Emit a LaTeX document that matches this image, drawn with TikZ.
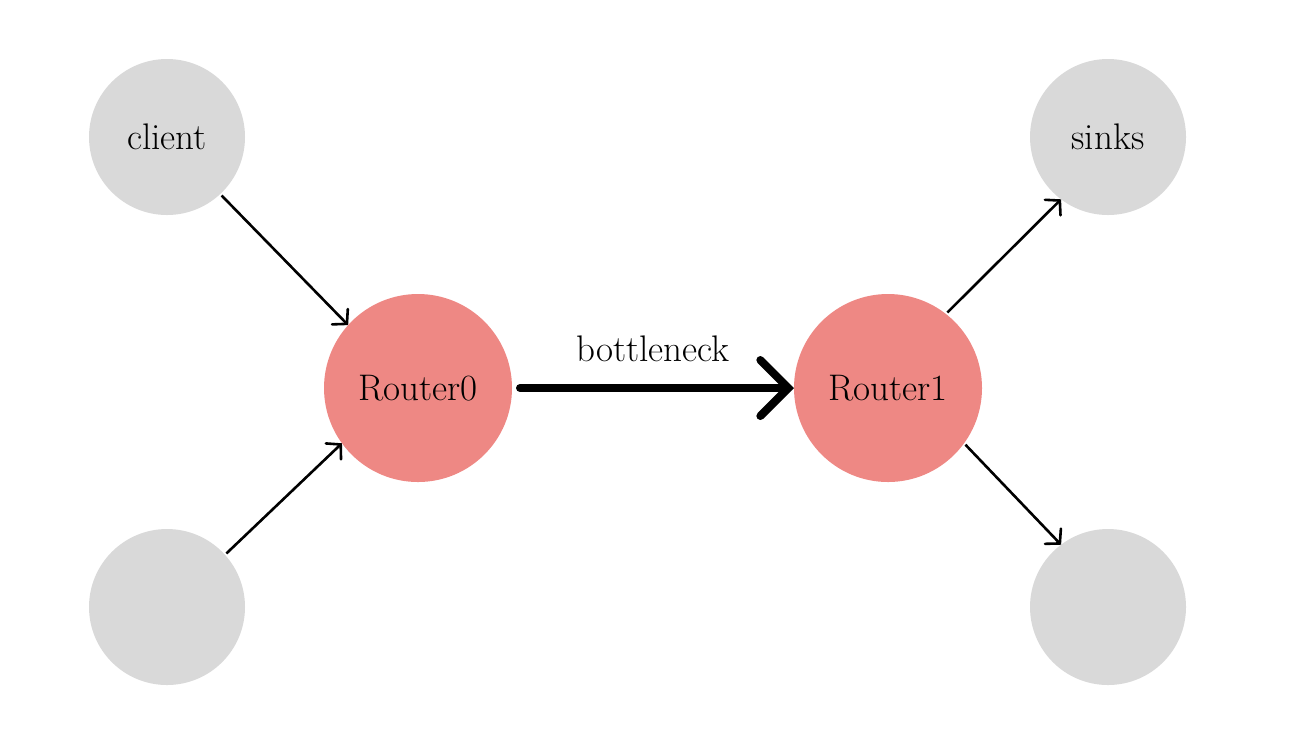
\documentclass[tikz,border=0pt]{standalone}
\usetikzlibrary{arrows.meta}
\definecolor{leafgray}{HTML}{D9D9D9}
\definecolor{routerred}{HTML}{EE8884}
\begin{document}
\begin{tikzpicture}[x=0.5pt,y=-0.5pt,
  lbl/.style={font=\fontsize{18.5}{22}\selectfont},
  leaf/.style={circle,fill=leafgray,minimum size=78pt,inner sep=0pt,outer sep=0pt,lbl},
  router/.style={circle,fill=routerred,minimum size=94pt,inner sep=0pt,outer sep=0pt,lbl},
  thinarrow/.style={line width=1.3pt,-{Straight Barb[length=5pt,width=11pt,line cap=round]},shorten <=1pt},
  bigarrow/.style={line width=4pt,line cap=round,-{Straight Barb[length=14pt,width=28pt,line cap=round]},shorten <=4pt}]
\useasboundingbox (0,0) rectangle (1304,752);
\node[leaf] (client) at (167,137) {client};
\node[leaf] (c2) at (167,607) {};
\node[router] (r0) at (418,388) {Router0};
\node[router] (r1) at (888,388) {Router1};
\node[leaf] (sinks) at (1108,137) {sinks};
\node[leaf] (s2) at (1108,607) {};
\draw[thinarrow] (client.-47) -- (r0.138);
\draw[thinarrow] (c2.42) -- (r0.216);
\draw[thinarrow] (r1.52) -- (sinks.233);
\draw[thinarrow] (r1.-36) -- (s2.127);
\draw[bigarrow] (r0) -- node[above=8pt,lbl] (blabel) {bottleneck} (r1);
\end{tikzpicture}
\end{document}
